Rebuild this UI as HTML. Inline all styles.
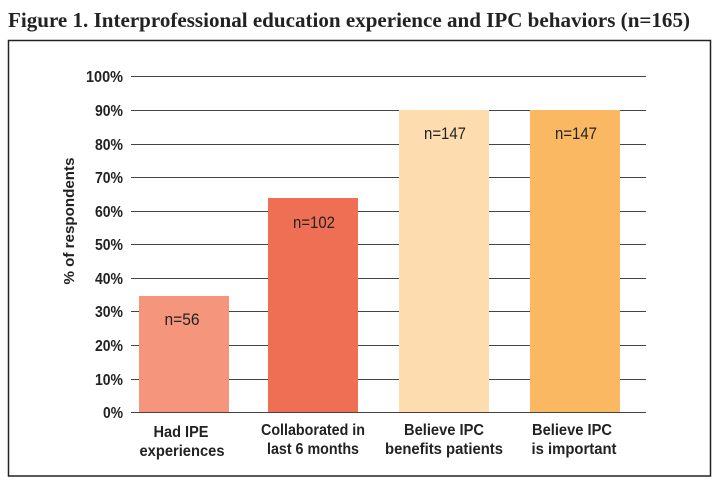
<!DOCTYPE html>
<html><head><meta charset="utf-8"><style>
html,body{margin:0;padding:0;background:#fff;}
</style></head><body>
<svg width="720" height="484" viewBox="0 0 720 484" xmlns="http://www.w3.org/2000/svg">
<rect width="720" height="484" fill="#fff"/>
<text x="8" y="27" font-family="Liberation Serif, serif" font-weight="bold" font-size="21" fill="#222" textLength="682" lengthAdjust="spacingAndGlyphs">Figure 1. Interprofessional education experience and IPC behaviors (n=165)</text>
<rect x="8.5" y="40.5" width="702" height="435.5" fill="none" stroke="#222" stroke-width="1.5"/>
<g stroke="#444" stroke-width="1">
<line x1="131" x2="646" y1="76.5" y2="76.5"/>
<line x1="131" x2="646" y1="110.5" y2="110.5"/>
<line x1="131" x2="646" y1="144.5" y2="144.5"/>
<line x1="131" x2="646" y1="177.5" y2="177.5"/>
<line x1="131" x2="646" y1="211.5" y2="211.5"/>
<line x1="131" x2="646" y1="244.5" y2="244.5"/>
<line x1="131" x2="646" y1="278.5" y2="278.5"/>
<line x1="131" x2="646" y1="311.5" y2="311.5"/>
<line x1="131" x2="646" y1="345.5" y2="345.5"/>
<line x1="131" x2="646" y1="379.5" y2="379.5"/>
</g>
<rect x="139" y="296" width="90" height="116" fill="#f4957c"/>
<rect x="268" y="198" width="90" height="214" fill="#ef6f55"/>
<rect x="399" y="110" width="90" height="302" fill="#fddcb0"/>
<rect x="530" y="110" width="90" height="302" fill="#fbb862"/>
<line x1="131" x2="646" y1="412.5" y2="412.5" stroke="#444" stroke-width="1"/>
<g font-family="Liberation Sans, sans-serif" font-weight="bold" font-size="16" fill="#222" text-anchor="end">
<text x="123" y="82" textLength="37" lengthAdjust="spacingAndGlyphs">100%</text>
<text x="123" y="116" textLength="28" lengthAdjust="spacingAndGlyphs">90%</text>
<text x="123" y="150" textLength="28" lengthAdjust="spacingAndGlyphs">80%</text>
<text x="123" y="183" textLength="28" lengthAdjust="spacingAndGlyphs">70%</text>
<text x="123" y="217" textLength="28" lengthAdjust="spacingAndGlyphs">60%</text>
<text x="123" y="250" textLength="28" lengthAdjust="spacingAndGlyphs">50%</text>
<text x="123" y="284" textLength="28" lengthAdjust="spacingAndGlyphs">40%</text>
<text x="123" y="317" textLength="28" lengthAdjust="spacingAndGlyphs">30%</text>
<text x="123" y="351" textLength="28" lengthAdjust="spacingAndGlyphs">20%</text>
<text x="123" y="385" textLength="28" lengthAdjust="spacingAndGlyphs">10%</text>
<text x="123" y="418" textLength="20" lengthAdjust="spacingAndGlyphs">0%</text>
</g>
<text transform="translate(74,221) rotate(-90)" font-family="Liberation Sans, sans-serif" font-weight="bold" font-size="15" fill="#222" text-anchor="middle" textLength="127" lengthAdjust="spacingAndGlyphs">% of respondents</text>
<g font-family="Liberation Sans, sans-serif" font-size="17" fill="#222" text-anchor="middle">
<text x="182" y="325" textLength="35" lengthAdjust="spacingAndGlyphs">n=56</text>
<text x="314" y="228" textLength="42" lengthAdjust="spacingAndGlyphs">n=102</text>
<text x="445" y="139" textLength="42" lengthAdjust="spacingAndGlyphs">n=147</text>
<text x="576" y="139" textLength="42" lengthAdjust="spacingAndGlyphs">n=147</text>
</g>
<g font-family="Liberation Sans, sans-serif" font-weight="bold" font-size="16" fill="#222" text-anchor="middle" lengthAdjust="spacingAndGlyphs">
<text x="181" y="437" textLength="55" lengthAdjust="spacingAndGlyphs">Had IPE</text>
<text x="182" y="456" textLength="85" lengthAdjust="spacingAndGlyphs">experiences</text>
<text x="313" y="435" textLength="104" lengthAdjust="spacingAndGlyphs">Collaborated in</text>
<text x="313" y="454" textLength="92" lengthAdjust="spacingAndGlyphs">last 6 months</text>
<text x="444" y="435" textLength="80" lengthAdjust="spacingAndGlyphs">Believe IPC</text>
<text x="444" y="454" textLength="118" lengthAdjust="spacingAndGlyphs">benefits patients</text>
<text x="572" y="435" textLength="80" lengthAdjust="spacingAndGlyphs">Believe IPC</text>
<text x="574" y="454" textLength="85" lengthAdjust="spacingAndGlyphs">is important</text>
</g>
</svg>
</body></html>
